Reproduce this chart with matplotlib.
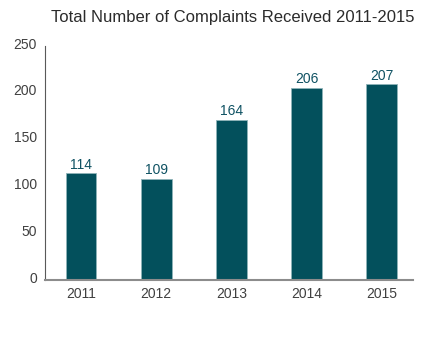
import matplotlib
matplotlib.use("Agg")
import matplotlib.pyplot as plt
from matplotlib.transforms import ScaledTranslation

years = ["2011", "2012", "2013", "2014", "2015"]
bar_values = [114, 108, 171, 205, 209]
value_labels = ["114", "109", "164", "206", "207"]
yticks = [0, 50, 100, 150, 200, 250]
title = "Total Number of Complaints Received 2011-2015"

plt.rcParams['font.family'] = ['Liberation Sans', 'DejaVu Sans']

fig = plt.figure(figsize=(4.39, 3.38), dpi=100)
ax = fig.add_axes([0.1018, 0.1725, 0.8390, 0.6923])

x = list(range(len(years)))
bars = ax.bar(x, bar_values, width=0.41, color="#03505c",
              edgecolor="#8fb3b8", linewidth=0.6, zorder=2)

for b, lab in zip(bars, value_labels):
    ax.annotate(lab, (b.get_x() + b.get_width() / 2, b.get_height()),
                xytext=(0, 1), textcoords="offset points",
                ha="center", va="bottom", fontsize=10, color="#0f5263")

ax.set_xlim(-0.484, 4.417)
ax.set_ylim(0, 250)
ax.set_xticks(x)
ax.set_xticklabels(years)
ax.set_yticks(yticks)
ax.set_yticklabels([str(v) for v in yticks])

ax.tick_params(axis="x", length=0, pad=5, labelsize=10, labelcolor="#404040")
ax.tick_params(axis="y", length=0, pad=5.5, labelsize=10, labelcolor="#404040")

shift = ScaledTranslation(0, 2.5 / 100, fig.dpi_scale_trans)
for lbl in ax.get_yticklabels():
    lbl.set_transform(lbl.get_transform() + shift)

for s in ["top", "right"]:
    ax.spines[s].set_visible(False)
ax.spines["left"].set_color("#595959")
ax.spines["left"].set_linewidth(0.8)
ax.spines["bottom"].set_color("#8c8c8c")
ax.spines["bottom"].set_linewidth(1.5)

fig.text(0.531, 0.948, title, ha="center", va="center", fontsize=12, color="#2b2b2b")

fig.savefig("out.png", dpi=100)
